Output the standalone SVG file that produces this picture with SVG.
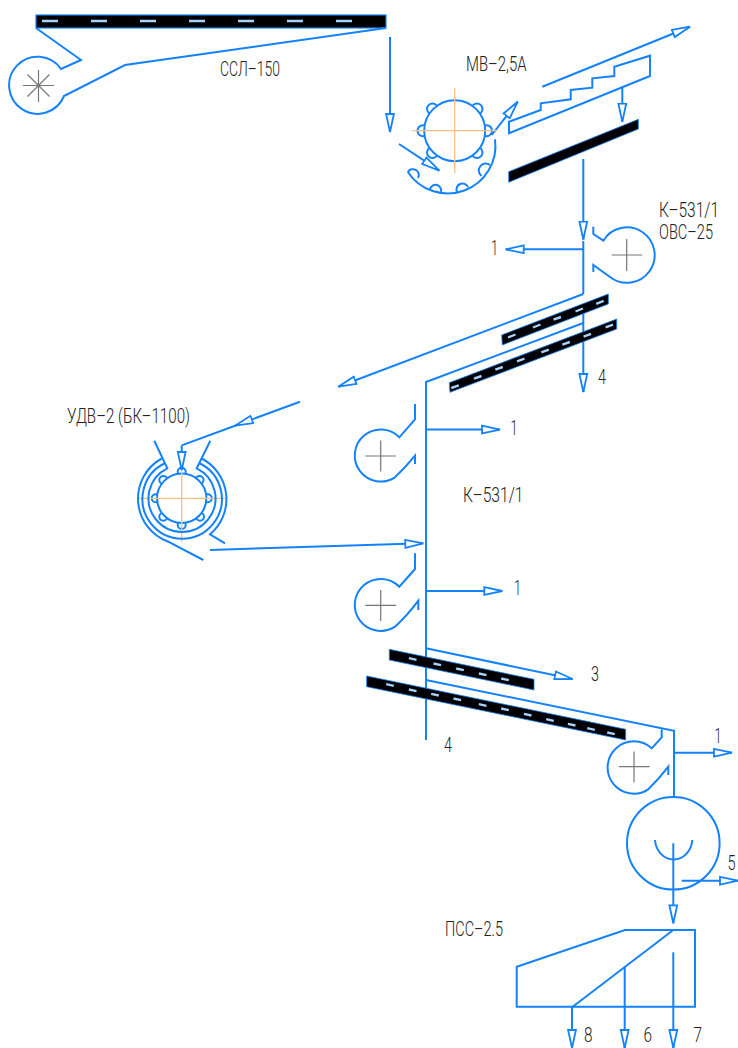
<svg xmlns="http://www.w3.org/2000/svg" width="738" height="1048" viewBox="0 0 738 1048">
<style>
.l{fill:none;stroke:#1482fa;stroke-width:2;stroke-linejoin:miter}
.w{fill:#fff;stroke:#1482fa;stroke-width:2}
.a{marker-end:url(#ah)}
.band{fill:#000;stroke:#1482fa;stroke-width:.8}
.d{stroke:#a6d2ff;stroke-width:2.4;fill:none}
.o{stroke:#fbc088;stroke-width:1.3;fill:none}
.g{stroke:#777;stroke-width:1.2;fill:none}
text{font-family:"Roboto","Liberation Sans",sans-serif;font-weight:300;font-size:20px;fill:#222}
</style>
<defs>
<marker id="ah" markerUnits="userSpaceOnUse" markerWidth="22" markerHeight="12" refX="19" refY="6" orient="auto">
<path d="M1,2.1 L19,6 L1,9.9 Z" fill="#fff" stroke="#1482fa" stroke-width="1.8"/>
</marker>
</defs>
<rect width="738" height="1048" fill="#fff"/>

<g id="connectors">
<path class="l a" d="M390,37 V132"/>
<path class="l a" d="M399,144 L439.3,170.7"/>
<path class="l a" d="M491.7,135 L517.7,101.7"/>
<path class="l a" d="M542.3,86.7 L690,26.7"/>
<path class="l a" d="M622.3,86.7 V121.7"/>
<path class="l a" d="M583.3,159 V239.5"/>
<path class="l" d="M583.3,241 V294"/>
<path class="l a" d="M583.3,294 L338.3,386.7"/>
<path class="l a" d="M583.3,249.3 H505.7"/>
<path class="l a" d="M583.3,310 V392"/>
<path class="l" d="M583.3,323 L426,382 V740"/>
<path class="l a" d="M300,401.7 L235,425.7"/>
<path class="l" d="M235,425.7 L181.7,445.4"/>
<path class="l a" d="M181.7,445.4 V470"/>
<path class="l a" d="M210,550 L423.3,543.3"/>
<path class="l a" d="M426,429.6 H500"/>
<path class="l a" d="M426,591 H502.3"/>
<path class="l a" d="M426,648.3 L572.7,679"/>
<path class="l" d="M426,680 L674,730.7 V797"/>
<path class="l a" d="M674,752.7 H732"/>
<path class="l a" d="M673.3,843.3 V923.3"/>
<path class="l a" d="M681.7,880.7 H738"/>
<path class="l a" d="M572,1006.7 V1048"/>
<path class="l a" d="M624.7,966.7 V1048"/>
<path class="l a" d="M673.3,952.3 V1048"/>
</g>

<g id="conveyor-ssl">
<rect x="36" y="15" width="350" height="13" fill="#000" stroke="#1482fa" stroke-width="1.2"/>
<path class="d" d="M42,21 H58 M91,21 H107 M140,21 H156 M189,21 H205 M238,21 H254 M287,21 H303 M336,21 H352"/>
<path class="l" d="M36,28 L81,60 L61,69 A28.5,28.5 0 1 0 64,96 L125,65 L386,28"/>
<path class="g" d="M23,85.5 H54 M38.5,70 V102 M27.5,74.5 L49.5,96.5 M49.5,74.5 L27.5,96.5"/>
<text x="220" y="76" textLength="60" lengthAdjust="spacingAndGlyphs">ССЛ–150</text>
</g>

<g id="mv-25a">
<circle class="l" cx="432.5" cy="109" r="5.5"/>
<circle class="l" cx="477" cy="109" r="5.5"/>
<circle class="l" cx="423" cy="130.7" r="5.5"/>
<circle class="l" cx="486.5" cy="130.7" r="5.5"/>
<circle class="l" cx="432.5" cy="152.5" r="5.5"/>
<circle class="l" cx="477" cy="152.5" r="5.5"/>
<circle class="w" cx="454.7" cy="130.7" r="30.5"/>
<path class="o" d="M412,130.7 H497 M454.7,88 V173"/>
<path class="l" d="M495,139.3 A47.7,47.7 0 0 1 407.7,171.7"/>
<path class="l" d="M408,172 A5.5,5.5 0 0 1 418,178 M430,189 A5.5,5.5 0 0 1 441,192 M457,192 A5.5,5.5 0 0 1 468,187 M481.5,176 A5.5,5.5 0 0 1 490,165"/>
<text x="466" y="70.7" textLength="60.5" lengthAdjust="spacingAndGlyphs">МВ–2,5А</text>
</g>

<g id="stepped-sieve">
<path class="l" d="M509,121.7 L540.7,110 V103.3 L570.7,99.3 V90 L592.3,87.7 V78.3 L614.3,76 V66.7 L650,55.7 V76 L509,133.3 Z"/>
<path d="M508.7,171.7 L638.3,119.3 V129 L508.7,182.3 Z" class="band"/>
</g>

<g id="fan-ovs">
<path class="l" d="M593.3,226.7 V234 L603.3,240.7 A27.7,27.7 0 1 1 610,277 L593.3,265 V272"/>
<path class="g" d="M611.7,255 H642.3 M626.7,239 V271"/>
<text x="659" y="216.7" textLength="60" lengthAdjust="spacingAndGlyphs">К–531/1</text>
<text x="659" y="239" textLength="54" lengthAdjust="spacingAndGlyphs">ОВС–25</text>
</g>

<g id="sieve-upper">
<path class="band" d="M501.7,335 L608.3,294 V304 L502.3,345 Z"/>
<path class="d" d="M508,337.5 L515.5,334.5 M533,327.5 L540.5,324.5 M553.5,319.7 L561,317 M575.5,311.5 L583,308.5 M596.2,303.8 L603.7,300.8"/>
<path class="band" d="M449.3,382.7 L616.7,319 V329 L450,392.3 Z"/>
<path class="d" d="M451.3,388 L458.8,385.3 M474,378.7 L481.5,376 M495.3,369.7 L502.8,367 M517,361.4 L524.5,358.6 M541.3,352.4 L548.8,349.6 M562.3,344.7 L569.8,342 M583.6,336.7 L591,333.9 M605.6,327.4 L613,324.6"/>
</g>

<g id="udv-2">
<circle class="l" cx="181.7" cy="471.7" r="4"/>
<circle class="l" cx="163.3" cy="480" r="4"/>
<circle class="l" cx="199.5" cy="480" r="4"/>
<circle class="l" cx="155.7" cy="498.3" r="4"/>
<circle class="l" cx="207.7" cy="498.3" r="4"/>
<circle class="l" cx="163.3" cy="516.7" r="4"/>
<circle class="l" cx="200" cy="516.7" r="4"/>
<circle class="l" cx="181.7" cy="525" r="4"/>
<circle class="w" cx="181.7" cy="498.3" r="24.7"/>
<path class="o" d="M138.3,498.3 H225 M181.7,470 V541.7"/>
<path class="l" d="M154.3,440.7 L167.3,468.3 A33.5,33.5 0 1 0 196.7,468.3 L210.3,440.7"/>
<path class="l" d="M165.3,463 A39.7,39.7 0 1 0 199,463"/>
<path class="l" d="M161.7,458.5 A45.8,45.8 0 0 0 168.3,541.7 L203.3,560"/>
<path class="l" d="M201.7,458.5 A45.8,45.8 0 0 1 210,534.3 L225,543.3"/>
<text x="67" y="423.3" textLength="123" lengthAdjust="spacingAndGlyphs">УДВ–2 (БК–1100)</text>
</g>

<g id="fan-k531-a">
<path class="l" d="M415,404 V419.3 L399.3,437.3 A26,26 0 1 0 395,477.3 Q405,468 415,455.7 V464"/>
<path class="g" d="M365.3,456 H396 M380.7,440.5 V471.5"/>
<text x="463" y="501.7" textLength="60.5" lengthAdjust="spacingAndGlyphs">К–531/1</text>
</g>

<g id="fan-k531-b">
<path class="l" d="M415,553.3 V569 L399.3,586.7 A26,26 0 1 0 395,626.7 Q407,616 418.3,600.7 V610"/>
<path class="g" d="M365.3,605.3 H396 M380.7,590 V621"/>
</g>

<g id="sieve-lower">
<path class="band" d="M389.3,649.3 L534,679.3 V690 L389.3,660 Z"/>
<path class="d" d="M408.9,658.2 L416.5,659.8 M433.5,663.5 L441.1,665.1 M456.2,668.5 L463.8,670.1 M478.9,673.5 L486.5,675.1 M501.2,678.5 L508.8,680.1"/>
<path class="band" d="M366.7,676 L625.7,729.3 V740 L366.7,686.7 Z"/>
<path class="d" d="M386.2,684.2 L393.8,685.8 M408.9,689.5 L416.5,691.1 M431.2,693.9 L438.8,695.5 M453.5,698.5 L461.1,700.1 M478.9,704.2 L486.5,705.8 M501.2,708.5 L508.8,710.1 M523.9,713.9 L531.5,715.5 M546.2,719.2 L553.8,720.8 M567.9,723.9 L575.5,725.5 M587.2,728.2 L594.8,729.8 M607.2,732.5 L614.8,734.1"/>
</g>

<g id="fan-k531-c">
<path class="l" d="M661.7,729.3 V737.3 L651.7,748.3 A26.2,26.2 0 1 0 648.3,789.3 Q659,779 668.3,766.7 V775"/>
<path class="g" d="M619,766.7 H649.5 M634,751.5 V782.5"/>
</g>

<g id="cyclone">
<circle class="l" cx="673.3" cy="843.3" r="46.3"/>
<path class="l" d="M655,840 A18.7,21 0 0 0 692.3,840"/>
</g>

<g id="pss-25">
<path class="l" d="M625,930 H695 V1006.7 H516.7 V966.7 Z"/>
<path class="l" d="M673.3,930 L572.7,1006.7"/>
<text x="445" y="936" textLength="58" lengthAdjust="spacingAndGlyphs">ПСС–2.5</text>
</g>

<g id="labels">
<text x="491" y="255" textLength="7" lengthAdjust="spacingAndGlyphs">1</text>
<text x="598" y="384" textLength="8" lengthAdjust="spacingAndGlyphs">4</text>
<text x="510.5" y="435" textLength="7" lengthAdjust="spacingAndGlyphs">1</text>
<text x="514" y="595" textLength="7" lengthAdjust="spacingAndGlyphs">1</text>
<text x="591" y="680.7" textLength="8" lengthAdjust="spacingAndGlyphs">3</text>
<text x="444" y="752" textLength="8" lengthAdjust="spacingAndGlyphs">4</text>
<text x="714.5" y="743" textLength="7" lengthAdjust="spacingAndGlyphs">1</text>
<text x="727.5" y="870" textLength="8" lengthAdjust="spacingAndGlyphs">5</text>
<text x="584" y="1041.7" textLength="8.5" lengthAdjust="spacingAndGlyphs">8</text>
<text x="643.5" y="1041.7" textLength="8.5" lengthAdjust="spacingAndGlyphs">6</text>
<text x="693.5" y="1041.7" textLength="8.5" lengthAdjust="spacingAndGlyphs">7</text>
</g>
</svg>
